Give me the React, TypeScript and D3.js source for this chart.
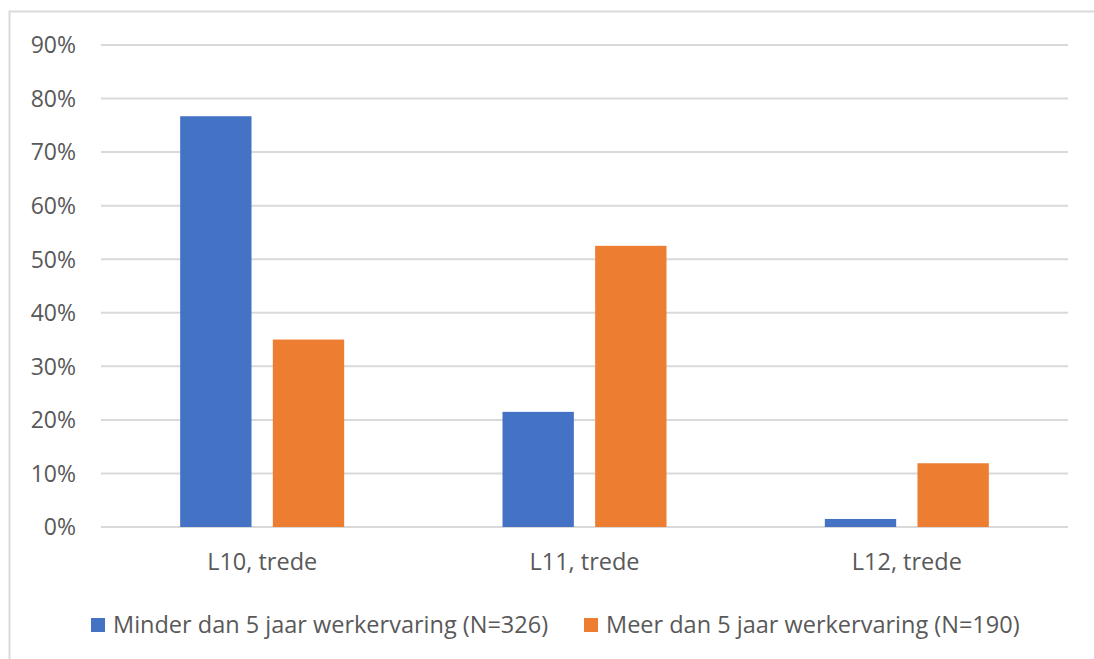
import React, { useRef, useEffect } from "react";
import * as d3 from "d3";

const categories = ["L10, trede", "L11, trede", "L12, trede"];
const seriesNames = [
  "Minder dan 5 jaar werkervaring (N=326)",
  "Meer dan 5 jaar werkervaring (N=190)",
];
const minderValues = [0.767, 0.215, 0.015];
const meerValues = [0.35, 0.525, 0.119];
const yTicks = [0, 0.1, 0.2, 0.3, 0.4, 0.5, 0.6, 0.7, 0.8, 0.9];
const colors = ["#4472C4", "#ED7D31"];

const W = 1094;
const H = 659;
const FONT = "'Open Sans', sans-serif";

const App = () => {
  const svgRef = useRef<SVGSVGElement>(null);

  useEffect(() => {
    const svg = d3.select(svgRef.current);
    svg.selectAll("*").remove();

    const left = 101, right = 1068, top = 45, bottom = 527;

    // chart border (only top and left edges fall inside the picture)
    svg.append("rect")
      .attr("x", 9.5).attr("y", 11.5)
      .attr("width", W + 20).attr("height", H + 20)
      .attr("fill", "#fff")
      .attr("stroke", "#d9d9d9")
      .attr("stroke-width", 2);

    const y = d3.scaleLinear().domain([0, 0.9]).range([bottom, top]);
    const catW = (right - left) / categories.length;
    const xc = d3.scaleBand().domain(categories).range([left, right]);
    const groupW = 164;
    const xs = d3.scaleBand().domain(["0", "1"]).range([0, groupW]).paddingInner(0.23);

    const g = svg.append("g");

    g.selectAll("line.grid")
      .data(yTicks)
      .enter()
      .append("line")
      .attr("x1", left).attr("x2", right)
      .attr("y1", (d) => y(d)).attr("y2", (d) => y(d))
      .attr("stroke", "#d9d9d9")
      .attr("stroke-width", 2);

    g.selectAll("text.ytick")
      .data(yTicks)
      .enter()
      .append("text")
      .attr("x", 76)
      .attr("y", (d) => y(d))
      .attr("dy", "0.36em")
      .attr("text-anchor", "end")
      .attr("font-family", FONT)
      .attr("font-size", 23)
      .attr("fill", "#595959")
      .text((d) => d3.format(".0%")(d));

    const series = [minderValues, meerValues];
    series.forEach((vals, si) => {
      g.selectAll(`rect.s${si}`)
        .data(vals)
        .enter()
        .append("rect")
        .attr("x", (d, i) => (xc(categories[i]) as number) + (catW - groupW) / 2 + (xs(String(si)) as number))
        .attr("y", (d) => y(d))
        .attr("width", xs.bandwidth())
        .attr("height", (d) => bottom - y(d))
        .attr("fill", colors[si]);
    });

    g.selectAll("text.cat")
      .data(categories)
      .enter()
      .append("text")
      .attr("x", (d) => (xc(d) as number) + catW / 2)
      .attr("y", 570)
      .attr("text-anchor", "middle")
      .attr("font-family", FONT)
      .attr("font-size", 23.5)
      .attr("fill", "#595959")
      .text((d) => d);

    // legend
    const legendX = [91, 584];
    seriesNames.forEach((name, i) => {
      g.append("rect")
        .attr("x", legendX[i]).attr("y", 618)
        .attr("width", 14).attr("height", 14)
        .attr("fill", colors[i]);
      g.append("text")
        .attr("x", legendX[i] + 22)
        .attr("y", 633)
        .attr("font-family", FONT)
        .attr("font-size", 23.5)
        .attr("fill", "#595959")
        .text(name);
    });
  }, []);

  return (
    <div style={{ position: "absolute", left: 0, top: 0, width: W, height: H, overflow: "hidden", background: "#fff" }}>
      <svg ref={svgRef} width={W} height={H}></svg>
    </div>
  );
};

export default App;
